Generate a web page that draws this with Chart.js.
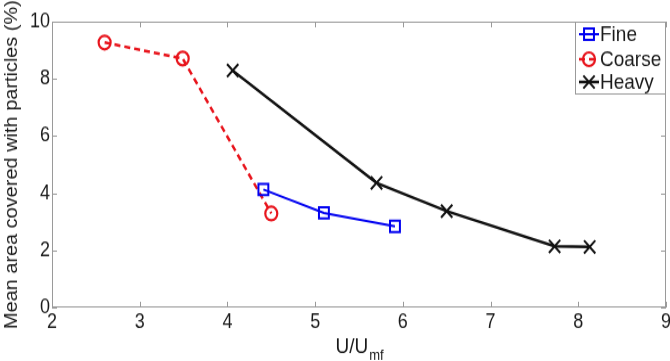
<!DOCTYPE html>
<html>
<head>
<meta charset="utf-8">
<script src="https://cdn.jsdelivr.net/npm/chart.js@4.4.1/dist/chart.umd.min.js"></script>
<style>
  html, body { margin: 0; padding: 0; background: #fff; width: 670px; height: 361px; }
  /* the reference figure is stretched vertically, so the whole chart is too */
  #wrap { width: 670px; height: 317px; transform: scaleY(1.1388); transform-origin: 0 0; }
</style>
</head>
<body>
<div id="wrap"><canvas id="areaChart" width="670" height="317"></canvas></div>
<script>
// Values
const fineX = [4.41, 5.10, 5.91];
const fineY = [4.13, 3.31, 2.84];
const coarseX = [2.60, 3.49, 4.50];
const coarseY = [9.27, 8.71, 3.29];
const heavyX = [4.06, 5.70, 6.50, 7.73, 8.13];
const heavyY = [8.29, 4.36, 3.37, 2.14, 2.12];

const xTicks = [2, 3, 4, 5, 6, 7, 8, 9];
const yTicks = [0, 2, 4, 6, 8, 10];

const FONT = 'Liberation Sans, Arial, sans-serif';

function toPoints(xs, ys) {
    return xs.map((x, i) => ({ x: x, y: ys[i] }));
}

// MATLAB style box with inward ticks, x title with subscript, inset legend
const matlabFrame = {
    id: 'matlabFrame',
    afterDraw(chart) {
        const { ctx, chartArea: a, scales } = chart;
        ctx.save();
        ctx.strokeStyle = '#9a9a9a';
        ctx.lineWidth = 1;
        ctx.strokeRect(a.left + 0.5, a.top + 0.5, a.right - a.left - 1, a.bottom - a.top - 1);
        ctx.beginPath();
        xTicks.forEach(v => {
            const px = Math.round(scales.x.getPixelForValue(v)) + 0.5;
            ctx.moveTo(px, a.bottom); ctx.lineTo(px, a.bottom - 5);
            ctx.moveTo(px, a.top); ctx.lineTo(px, a.top + 5);
        });
        yTicks.forEach(v => {
            const py = Math.round(scales.y.getPixelForValue(v)) + 0.5;
            ctx.moveTo(a.left, py); ctx.lineTo(a.left + 5, py);
            ctx.moveTo(a.right, py); ctx.lineTo(a.right - 5, py);
        });
        ctx.stroke();

        // x axis title U/U_mf
        ctx.fillStyle = '#1a1a1a';
        ctx.textBaseline = 'alphabetic';
        ctx.textAlign = 'left';
        ctx.font = '19px ' + FONT;
        const main = 'U/U';
        const sub = 'mf';
        const mainW = ctx.measureText(main).width;
        ctx.font = '13px ' + FONT;
        const subW = ctx.measureText(sub).width;
        const startX = (a.left + a.right) / 2 - (mainW + subW) / 2;
        ctx.font = '19px ' + FONT;
        ctx.fillText(main, startX, 309.5);
        ctx.font = '13px ' + FONT;
        ctx.fillText(sub, startX + mainW + 1, 316);

        // legend
        const lx = 575, ly = a.top, lw = a.right - 575, lh = 64;
        ctx.fillStyle = '#fff';
        ctx.fillRect(lx, ly, lw, lh);
        ctx.strokeStyle = '#9a9a9a';
        ctx.strokeRect(lx + 0.5, ly + 0.5, lw - 1, lh - 1);
        const rowY = [30, 52, 72];
        chart.data.datasets.forEach((ds, i) => {
            const y = rowY[i];
            ctx.save();
            ctx.strokeStyle = ds.borderColor;
            ctx.lineWidth = ds.borderWidth;
            ctx.setLineDash(ds.borderDash || []);
            ctx.beginPath();
            ctx.moveTo(579, y); ctx.lineTo(599, y);
            ctx.stroke();
            ctx.setLineDash([]);
            ctx.fillStyle = 'rgba(0,0,0,0)';
            ctx.lineWidth = ds.pointBorderWidth;
            Chart.helpers.drawPoint(ctx, {
                pointStyle: ds.pointStyle,
                radius: ds.pointRadius,
                borderWidth: ds.pointBorderWidth,
                rotation: 0
            }, 589, y);
            ctx.restore();
            ctx.fillStyle = '#1a1a1a';
            ctx.font = '19px ' + FONT;
            ctx.textAlign = 'left';
            ctx.textBaseline = 'middle';
            ctx.fillText(ds.label, 600, y + 1);
        });
        ctx.restore();
    }
};

const ctx = document.getElementById('areaChart').getContext('2d');
const areaChart = new Chart(ctx, {
    type: 'line',
    data: {
        datasets: [
            {
                label: 'Fine',
                data: toPoints(fineX, fineY),
                borderColor: '#0000f0',
                backgroundColor: 'rgba(0,0,0,0)',
                borderWidth: 2,
                pointStyle: 'rect',
                pointRadius: 7,
                pointBorderWidth: 2,
                pointBorderColor: '#0000f0',
                pointBackgroundColor: 'rgba(0,0,0,0)'
            },
            {
                label: 'Coarse',
                data: toPoints(coarseX, coarseY),
                borderColor: '#e8141c',
                backgroundColor: 'rgba(0,0,0,0)',
                borderWidth: 2.5,
                borderDash: [6, 4],
                pointStyle: 'circle',
                pointRadius: 6,
                pointBorderWidth: 2.2,
                pointBorderColor: '#e8141c',
                pointBackgroundColor: 'rgba(0,0,0,0)'
            },
            {
                label: 'Heavy',
                data: toPoints(heavyX, heavyY),
                borderColor: '#111',
                backgroundColor: 'rgba(0,0,0,0)',
                borderWidth: 2.5,
                pointStyle: 'crossRot',
                pointRadius: 8,
                pointBorderWidth: 2,
                pointBorderColor: '#111',
                pointBackgroundColor: 'rgba(0,0,0,0)'
            }
        ]
    },
    options: {
        responsive: false,
        animation: false,
        layout: { autoPadding: false, padding: { top: 19, right: 4, left: 0, bottom: 0 } },
        scales: {
            x: {
                type: 'linear',
                min: 2,
                max: 9,
                afterBuildTicks: s => { s.ticks = xTicks.map(v => ({ value: v })); },
                afterFit: s => { s.height = 47; s.paddingLeft = 0; s.paddingRight = 0; },
                grid: { display: false, drawTicks: false, tickLength: 0 },
                border: { display: false },
                ticks: {
                    padding: 2,
                    color: '#1a1a1a',
                    font: { family: FONT, size: 18 },
                    maxRotation: 0,
                    autoSkip: false
                }
            },
            y: {
                type: 'linear',
                min: 0,
                max: 10,
                afterBuildTicks: s => { s.ticks = yTicks.map(v => ({ value: v })); },
                afterFit: s => { s.width = 52; s.paddingTop = 0; s.paddingBottom = 0; },
                grid: { display: false, drawTicks: false, tickLength: 0 },
                border: { display: false },
                ticks: {
                    padding: 2,
                    color: '#1a1a1a',
                    font: { family: FONT, size: 18 },
                    autoSkip: false
                },
                title: {
                    display: true,
                    text: 'Mean area covered with particles (%)',
                    color: '#1a1a1a',
                    font: { family: FONT, size: 17.5 },
                    padding: { top: 2, bottom: 0 }
                }
            }
        },
        plugins: {
            legend: { display: false },
            tooltip: { enabled: false }
        }
    },
    plugins: [matlabFrame]
});
</script>
</body>
</html>
